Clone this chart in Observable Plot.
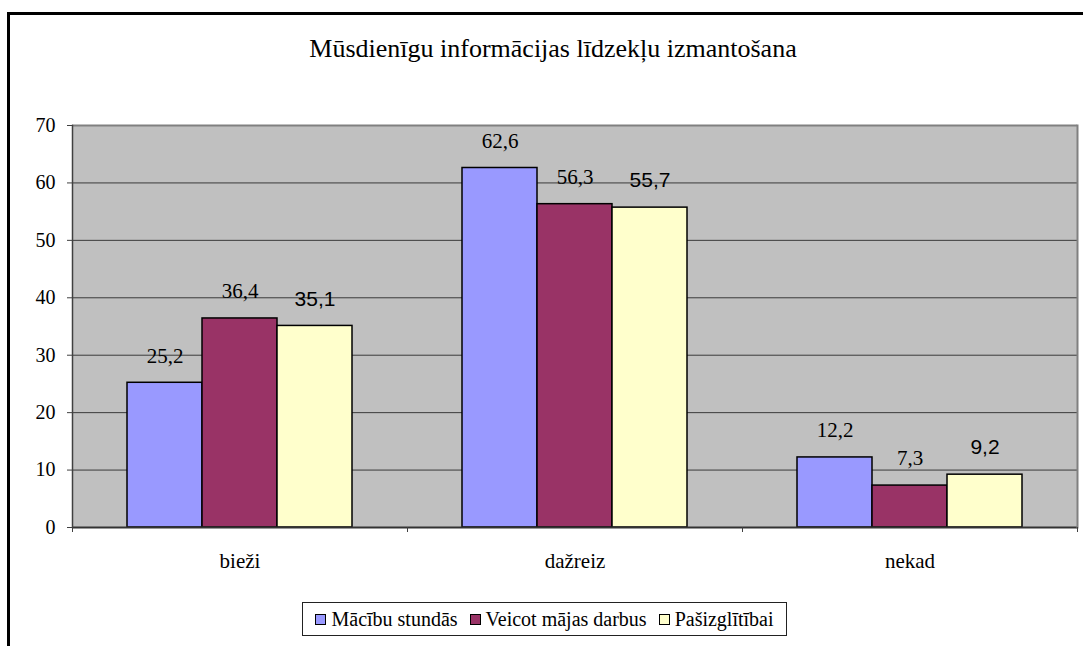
<!DOCTYPE html>
<html>
<head>
<meta charset="utf-8">
<script src="https://cdn.jsdelivr.net/npm/d3@7"></script>
<script src="https://cdn.jsdelivr.net/npm/@observablehq/plot@0.6"></script>
<style>
  html, body { margin: 0; padding: 0; background: #fff; }
  #wrap { position: relative; width: 1083px; height: 646px; overflow: hidden; background: #fff; }
  #outer { position: absolute; left: 7px; top: 12px; width: 1120px; height: 700px; border: 3px solid #000; box-sizing: border-box; }
  #title { position: absolute; top: 36px; left: 553px; transform: translateX(-50%); white-space: nowrap;
           font-family: 'Liberation Serif', 'Times New Roman', serif; font-size: 26px; line-height: 26px; color: #000; }
  #chart { position: absolute; left: 0; top: 100px; }
  #legend { position: absolute; left: 302px; top: 602px; width: 485px; height: 34px; box-sizing: border-box;
            border: 1px solid #222; display: flex; align-items: center; justify-content: center; gap: 12px;
            font-family: 'Liberation Serif', 'Times New Roman', serif; font-size: 20px; color: #000; background: #fff; }
  #legend span { font-family: 'Liberation Serif', 'Times New Roman', serif; }
  .item { display: flex; align-items: center; gap: 5px; white-space: nowrap; }
  .sw { width: 11px; height: 11px; border: 1px solid #000; box-sizing: border-box; display: inline-block; }
</style>
</head>
<body>
<div id="wrap">
  <div id="outer"></div>
  <div id="title"></div>
  <div id="chart"></div>
  <div id="legend"></div>
</div>
<script>
const titleText = "Mūsdienīgu informācijas līdzekļu izmantošana";
const categories = ["bieži", "dažreiz", "nekad"];
const series = ["Mācību stundās", "Veicot mājas darbus", "Pašizglītībai"];
const macibuStundas = [25.2, 62.6, 12.2];
const veicotMajasDarbus = [36.4, 56.3, 7.3];
const pasizglitibai = [35.1, 55.7, 9.2];
const colors = ["#9999FF", "#993366", "#FFFFCC"];
const yTicks = [0, 10, 20, 30, 40, 50, 60, 70];

const seriesValues = [macibuStundas, veicotMajasDarbus, pasizglitibai];
const data = [];
categories.forEach((c, i) => {
  series.forEach((s, j) => data.push({cat: c, series: s, value: seriesValues[j][i]}));
});
const fmt = v => String(v).replace(".", ",");

document.getElementById("title").textContent = titleText;

const W = 1083, H = 480, ML = 72, MR = 6, MT = 25, MB = 53;
const facetW = (W - ML - MR) / categories.length;
const serif = "'Liberation Serif', 'Times New Roman', serif";
const sans = "'Liberation Sans', Arial, sans-serif";

const chart = Plot.plot({
  width: W, height: H,
  marginLeft: ML, marginRight: MR, marginTop: MT, marginBottom: MB,
  style: {fontFamily: serif, color: "#000", background: "transparent"},
  fx: {domain: categories, padding: 0, label: null},
  x: {domain: series, paddingInner: 0, paddingOuter: 0.733, axis: null},
  y: {domain: [0, 70], label: null},
  color: {domain: series, range: colors},
  marks: [
    Plot.frame({fill: "#C0C0C0", stroke: "#C0C0C0"}),
    Plot.gridY(yTicks.filter(t => t > 0 && t < 70), {stroke: "#3a3a3a", strokeOpacity: 1}),
    Plot.ruleY([70], {stroke: "#808080", strokeWidth: 2}),
    Plot.barY(data, {fx: "cat", x: "series", y: "value", fill: "series", stroke: "#000", strokeWidth: 1.5}),
    Plot.ruleY([0], {stroke: "#333", strokeWidth: 2}),
    Plot.frame({facet: "super", anchor: "left", stroke: "#404040", strokeWidth: 1.5}),
    Plot.frame({facet: "super", anchor: "right", stroke: "#808080", strokeWidth: 2}),
    Plot.text(data.filter(d => d.series !== series[2]), {fx: "cat", x: "series", y: "value", text: d => fmt(d.value),
      dy: -27, lineAnchor: "middle", fontSize: 21, fontFamily: serif, fill: "#000"}),
    Plot.text(data.filter(d => d.series === series[2]), {fx: "cat", x: "series", y: "value", text: d => fmt(d.value),
      dy: -27, lineAnchor: "middle", fontSize: 21, fontFamily: sans, fill: "#000"}),
    Plot.axisY({ticks: yTicks, tickSize: 5, tickPadding: 12, fontSize: 20, fontFamily: serif, stroke: "#404040", label: null}),
    Plot.axisFx({anchor: "bottom", tickSize: 0, tickPadding: 26, fontSize: 21, fontFamily: serif, label: null}),
    Plot.axisFx({anchor: "bottom", tickSize: 5, tickFormat: () => "", dx: -facetW / 2, stroke: "#404040", label: null}),
    Plot.axisFx(categories.slice(-1), {anchor: "bottom", tickSize: 5, tickFormat: () => "", dx: facetW / 2, stroke: "#404040", label: null})
  ]
});
document.getElementById("chart").appendChild(chart);

const legend = document.getElementById("legend");
series.forEach((s, i) => {
  const item = document.createElement("span");
  item.className = "item";
  const sw = document.createElement("span");
  sw.className = "sw";
  sw.style.background = colors[i];
  const t = document.createElement("span");
  t.textContent = s;
  item.appendChild(sw);
  item.appendChild(t);
  legend.appendChild(item);
});
</script>
</body>
</html>
